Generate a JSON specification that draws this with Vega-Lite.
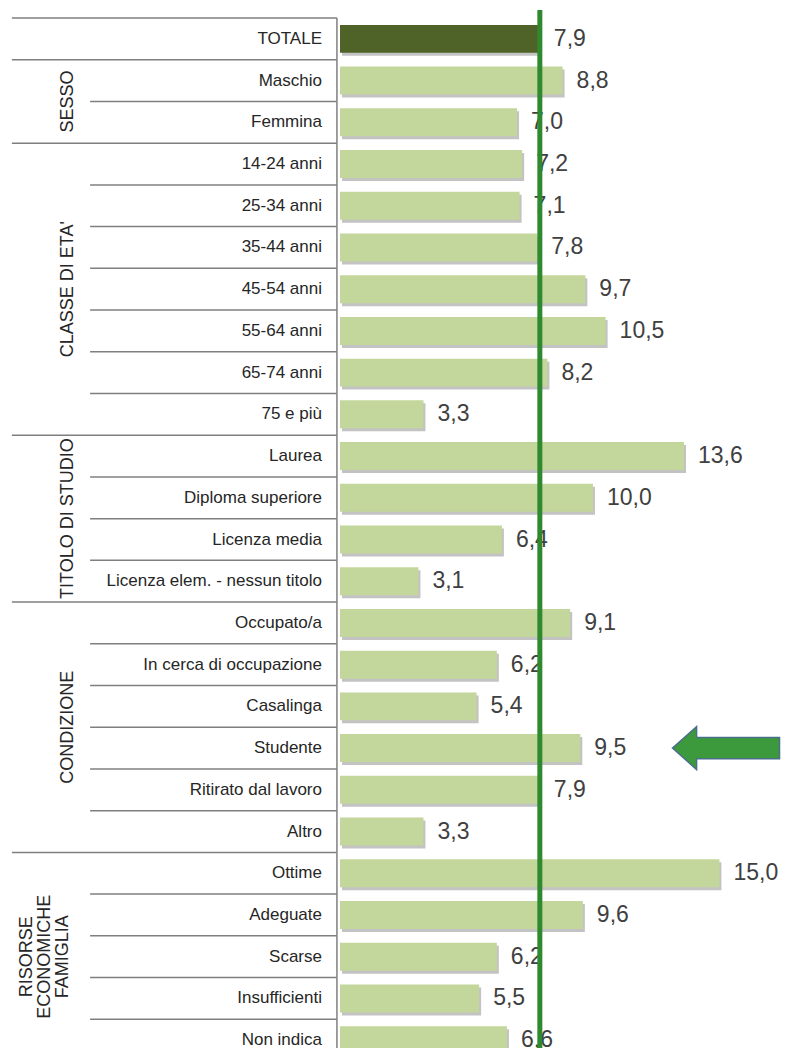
{
  "$schema": "https://vega.github.io/schema/vega-lite/v6.json",
  "padding": {"left": 0, "top": 7, "right": 0, "bottom": 0},
  "spacing": 0,
  "datasets": {
    "rows": [
      {"cat": "TOTALE", "value": 7.9, "first": true},
      {"cat": "Maschio", "value": 8.8, "first": true},
      {"cat": "Femmina", "value": 7.0, "first": false},
      {"cat": "14-24 anni", "value": 7.2, "first": true},
      {"cat": "25-34 anni", "value": 7.1, "first": false},
      {"cat": "35-44 anni", "value": 7.8, "first": false},
      {"cat": "45-54 anni", "value": 9.7, "first": false},
      {"cat": "55-64 anni", "value": 10.5, "first": false},
      {"cat": "65-74 anni", "value": 8.2, "first": false},
      {"cat": "75 e più", "value": 3.3, "first": false},
      {"cat": "Laurea", "value": 13.6, "first": true},
      {"cat": "Diploma superiore", "value": 10.0, "first": false},
      {"cat": "Licenza media", "value": 6.4, "first": false},
      {"cat": "Licenza elem. - nessun titolo", "value": 3.1, "first": false},
      {"cat": "Occupato/a", "value": 9.1, "first": true},
      {"cat": "In cerca di occupazione", "value": 6.2, "first": false},
      {"cat": "Casalinga", "value": 5.4, "first": false},
      {"cat": "Studente", "value": 9.5, "first": false},
      {"cat": "Ritirato dal lavoro", "value": 7.9, "first": false},
      {"cat": "Altro", "value": 3.3, "first": false},
      {"cat": "Ottime", "value": 15.0, "first": true},
      {"cat": "Adeguate", "value": 9.6, "first": false},
      {"cat": "Scarse", "value": 6.2, "first": false},
      {"cat": "Insufficienti", "value": 5.5, "first": false},
      {"cat": "Non indica", "value": 6.6, "first": false}
    ],
    "groups": [
      {"label": "SESSO", "anchor": "Femmina", "split": true},
      {"label": "CLASSE DI ETA'", "anchor": "45-54 anni", "split": false},
      {"label": "TITOLO DI STUDIO", "anchor": "Licenza media", "split": true},
      {"label": "CONDIZIONE", "anchor": "Studente", "split": true},
      {"label": ["RISORSE", "ECONOMICHE", "FAMIGLIA"], "anchor": "Scarse", "split": false}
    ],
    "arrow": [{"cat": "Studente", "pos": 15.26}]
  },
  "hconcat": [
    {
      "width": 340,
      "height": 1043,
      "layer": [
        {
          "data": {"name": "rows"},
          "transform": [{"filter": "datum.first"}],
          "mark": {"type": "rule", "color": "#7f7f7f", "strokeWidth": 1.5},
          "encoding": {
            "y": {"field": "cat", "type": "nominal", "bandPosition": 0, "scale": {"domain": ["TOTALE","Maschio","Femmina","14-24 anni","25-34 anni","35-44 anni","45-54 anni","55-64 anni","65-74 anni","75 e più","Laurea","Diploma superiore","Licenza media","Licenza elem. - nessun titolo","Occupato/a","In cerca di occupazione","Casalinga","Studente","Ritirato dal lavoro","Altro","Ottime","Adeguate","Scarse","Insufficienti","Non indica"], "paddingInner": 0, "paddingOuter": 0}},
            "x": {"datum": 3.5, "scale": {"domain": [0, 100], "nice": false, "zero": false}},
            "x2": {"datum": 99.1}
          }
        },
        {
          "data": {"name": "rows"},
          "transform": [{"filter": "!datum.first"}],
          "mark": {"type": "rule", "color": "#7f7f7f", "strokeWidth": 1.5},
          "encoding": {
            "y": {"field": "cat", "type": "nominal", "bandPosition": 0},
            "x": {"datum": 26.5},
            "x2": {"datum": 99.1}
          }
        },
        {
          "data": {"name": "rows"},
          "mark": {"type": "rule", "color": "#7f7f7f", "strokeWidth": 1.5},
          "encoding": {
            "y": {"field": "cat", "type": "nominal", "bandPosition": 0},
            "y2": {"field": "cat", "bandPosition": 1},
            "x": {"datum": 99.1}
          }
        },
        {
          "data": {"name": "rows"},
          "mark": {"type": "text", "align": "right", "baseline": "middle", "font": "Liberation Sans", "fontSize": 17, "color": "#262626"},
          "encoding": {
            "y": {"field": "cat", "type": "nominal"},
            "x": {"datum": 94.7},
            "text": {"field": "cat"}
          }
        },
        {
          "data": {"name": "groups"},
          "transform": [{"filter": "datum.split"}],
          "mark": {"type": "text", "angle": 270, "align": "center", "baseline": "bottom", "font": "Liberation Sans", "fontSize": 18, "color": "#262626"},
          "encoding": {
            "y": {"field": "anchor", "type": "nominal", "bandPosition": 0},
            "x": {"datum": 22.65},
            "text": {"field": "label"}
          }
        },
        {
          "data": {"name": "groups"},
          "transform": [{"filter": "!datum.split && !isArray(datum.label)"}],
          "mark": {"type": "text", "angle": 270, "align": "center", "baseline": "bottom", "font": "Liberation Sans", "fontSize": 18, "color": "#262626"},
          "encoding": {
            "y": {"field": "anchor", "type": "nominal"},
            "x": {"datum": 22.65},
            "text": {"field": "label"}
          }
        },
        {
          "data": {"name": "groups"},
          "transform": [{"filter": "isArray(datum.label)"}],
          "mark": {"type": "text", "angle": 270, "align": "center", "baseline": "bottom", "dy": -41, "font": "Liberation Sans", "fontSize": 18, "lineHeight": 18, "color": "#262626"},
          "encoding": {
            "y": {"field": "anchor", "type": "nominal"},
            "x": {"datum": 22.65},
            "text": {"field": "label"}
          }
        }
      ]
    },
    {
      "width": 449,
      "height": 1043,
      "layer": [
        {
          "data": {"name": "rows"},
          "mark": {"type": "bar", "color": "#7a7a7a", "opacity": 0.45, "xOffset": 2, "yOffset": 3},
          "encoding": {
            "y": {"field": "cat", "type": "nominal", "scale": {"domain": ["TOTALE","Maschio","Femmina","14-24 anni","25-34 anni","35-44 anni","45-54 anni","55-64 anni","65-74 anni","75 e più","Laurea","Diploma superiore","Licenza media","Licenza elem. - nessun titolo","Occupato/a","In cerca di occupazione","Casalinga","Studente","Ritirato dal lavoro","Altro","Ottime","Adeguate","Scarse","Insufficienti","Non indica"], "paddingInner": 0.33, "paddingOuter": 0.165}},
            "x": {"field": "value", "type": "quantitative", "scale": {"domain": [0, 17.75], "nice": false, "zero": true}}
          }
        },
        {
          "data": {"name": "rows"},
          "mark": {"type": "bar"},
          "encoding": {
            "y": {"field": "cat", "type": "nominal"},
            "x": {"field": "value", "type": "quantitative"},
            "color": {
              "condition": {"test": "datum.cat === 'TOTALE'", "value": "#4f6228"},
              "value": "#c3d69b"
            }
          }
        },
        {
          "data": {"name": "rows"},
          "mark": {"type": "text", "align": "left", "baseline": "middle", "dx": 14, "font": "Liberation Sans", "fontSize": 23, "color": "#404040"},
          "encoding": {
            "y": {"field": "cat", "type": "nominal"},
            "x": {"field": "value", "type": "quantitative"},
            "text": {"field": "value", "type": "quantitative", "format": ".1f"}
          }
        },
        {
          "data": {"name": "rows"},
          "transform": [{"filter": "datum.cat === 'TOTALE'"}],
          "mark": {"type": "rule", "color": "#2f8a2f", "strokeWidth": 5, "yOffset": -8},
          "encoding": {
            "x": {"field": "value", "type": "quantitative"}
          }
        },
        {
          "data": {"name": "arrow"},
          "mark": {
            "type": "point",
            "filled": true,
            "shape": "M -1 0 L -0.55 -0.4 L -0.55 -0.2 L 1 -0.2 L 1 0.2 L -0.55 0.2 L -0.55 0.4 Z",
            "size": 11449,
            "color": "#3c9a3c",
            "opacity": 1,
            "stroke": "#4a6f8a",
            "strokeWidth": 1.5
          },
          "encoding": {
            "y": {"field": "cat", "type": "nominal"},
            "x": {"field": "pos", "type": "quantitative"}
          }
        }
      ]
    }
  ],
  "resolve": {"scale": {"y": "independent", "x": "independent"}},
  "config": {
    "view": {"stroke": null},
    "locale": {"number": {"decimal": ",", "thousands": ".", "grouping": [3], "currency": ["€", ""]}},
    "axis": {"disable": true}
  }
}
